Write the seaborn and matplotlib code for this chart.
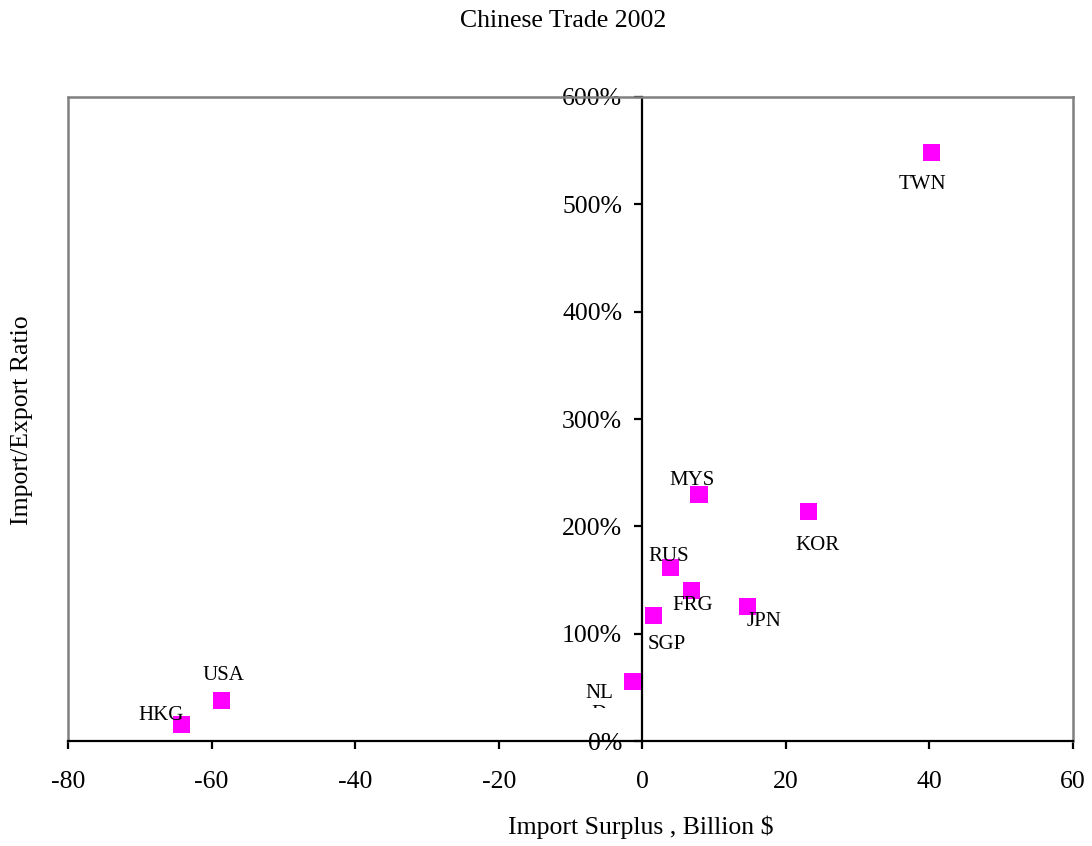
import matplotlib
matplotlib.use("Agg")
import matplotlib.pyplot as plt
from matplotlib.transforms import Bbox, TransformedBbox
import seaborn as sns
import pandas as pd

# China's 2002 trade balance with its main partners
countries = ["TWN", "MYS", "KOR", "RUS", "FRG", "JPN", "SGP", "NLD", "USA", "HKG"]
import_surplus = [40.3, 7.9, 23.2, 3.9, 6.8, 14.6, 1.6, -1.4, -58.6, -64.2]  # billion $
import_export_ratio = [548, 230, 214, 162, 140, 125, 117, 55, 38, 15]  # percent

# label offsets (pixels) relative to each marker
label_dx = [-9, -7, 9, -2, 2, 17, 13, -33, 2, -20]
label_dy = [-32, 14, -34, 11, -15, -15, -29, -1, 25, 9]

df = pd.DataFrame({"country": countries, "surplus": import_surplus,
                   "ratio": import_export_ratio})

sns.set_theme(style="white")
plt.rcParams["font.family"] = ["Liberation Serif", "DejaVu Serif"]
plt.rcParams["axes.unicode_minus"] = False

fig = plt.figure(figsize=(10.92, 8.46), dpi=100)
ax = fig.add_axes([68 / 1092, 1 - 741 / 846, (1073 - 68) / 1092, (741 - 97) / 846])

sns.scatterplot(data=df, x="surplus", y="ratio", marker="s", s=150,
                color="#FF00FF", edgecolor="none", ax=ax, zorder=3)

ax.set_xlim(-80, 60)
ax.set_ylim(0, 600)

for i, c in enumerate(countries):
    if c == "NLD":
        # long label wraps inside its box and is cut off at the bottom
        t = ax.annotate("NL\nD", (import_surplus[i], import_export_ratio[i]),
                        xytext=(label_dx[i], label_dy[i] - 1), textcoords="offset pixels",
                        ha="center", va="top", fontsize=15, color="black",
                        linespacing=1.15)
        t.set_clip_box(TransformedBbox(Bbox([[-80, 31], [60, 600]]), ax.transData))
        t.set_clip_on(True)
    else:
        ax.annotate(c, (import_surplus[i], import_export_ratio[i]),
                    xytext=(label_dx[i], label_dy[i]), textcoords="offset pixels",
                    ha="center", va="center", fontsize=15, color="black")

ax.set_xticks(range(-80, 61, 20))
ax.set_yticks(range(0, 601, 100))
ax.set_yticklabels([f"{v}%" for v in range(0, 601, 100)])

# axes frame: grey border, black axes through the origin
for side in ("top", "right"):
    ax.spines[side].set_color("#808080")
    ax.spines[side].set_linewidth(1.8)
ax.spines["left"].set_position(("data", 0))
ax.spines["left"].set_color("black")
ax.spines["left"].set_linewidth(1.6)
ax.spines["bottom"].set_color("black")
ax.spines["bottom"].set_linewidth(1.6)
ax.axvline(-80, color="#808080", lw=1.8, clip_on=False, zorder=1)

ax.tick_params(axis="both", which="major", direction="out", length=5.5, width=1.6,
               color="black", labelsize=18.5, labelcolor="black")
ax.tick_params(axis="x", pad=16, bottom=True)
ax.tick_params(axis="y", pad=9, left=True)

ax.set_xlabel("")
ax.set_ylabel("")
fig.text(641 / 1092, 1 - 827 / 846, "Import Surplus , Billion $", ha="center",
         va="center", fontsize=18.5, color="black")
fig.text(22 / 1092, 1 - 420 / 846, "Import/Export Ratio", rotation=90,
         ha="center", va="center", fontsize=18.5, color="black")
fig.text(563 / 1092, 1 - 21 / 846, "Chinese Trade 2002", ha="center", va="center",
         fontsize=18.5, color="black")

fig.savefig("out.png", dpi=100, facecolor="white")
